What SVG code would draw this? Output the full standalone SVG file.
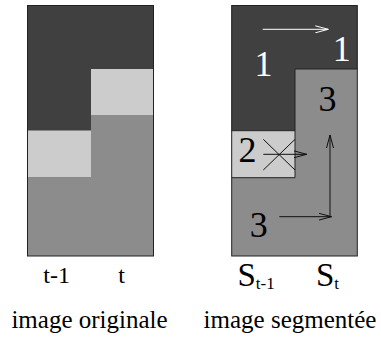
<svg xmlns="http://www.w3.org/2000/svg" width="381" height="339" viewBox="0 0 381 339">
<style>
.dark{fill:#404040}
.light{fill:#cccccc}
.mid{fill:#8c8c8c}
.edge{fill:none;stroke:#222;stroke-width:1}
text{font-family:'Liberation Serif','DejaVu Serif',serif;fill:#000}
.big{font-size:36px;text-anchor:middle}
.lab{font-size:24px;text-anchor:middle}
.cap{font-size:25px;text-anchor:middle}
.ln{stroke:#111;stroke-width:1;fill:none}
.wl{stroke:#fff;stroke-width:1;fill:none}
</style>
<defs>
<marker id="ab" markerWidth="14" markerHeight="8" refX="13" refY="4" orient="auto" markerUnits="userSpaceOnUse">
<path d="M0,0.5 L13,4 L0,7.5" fill="none" stroke="#111" stroke-width="1"/>
</marker>
<marker id="aw" markerWidth="14" markerHeight="8" refX="13" refY="4" orient="auto" markerUnits="userSpaceOnUse">
<path d="M0,0.5 L13,4 L0,7.5" fill="none" stroke="#fff" stroke-width="1"/>
</marker>
</defs>
<g id="original">
<rect class="dark" x="27.5" y="5.5" width="126" height="250.5"/>
<rect class="light" x="27.5" y="130.5" width="63.5" height="47"/>
<rect class="mid" x="27.5" y="177.5" width="63.5" height="78.5"/>
<rect class="light" x="91" y="69" width="62.5" height="46"/>
<rect class="mid" x="91" y="115" width="62.5" height="141"/>
<rect class="edge" x="27.5" y="5.5" width="126" height="250.5"/>
<text class="lab" x="56.7" y="283">t-1</text>
<text class="lab" x="121.7" y="283">t</text>
<text class="cap" x="89.5" y="328">image originale</text>
</g>
<g id="segmented">
<rect class="mid" x="231.7" y="5.5" width="125.6" height="250.5"/>
<path class="dark" d="M231.7,5.5 H357.3 V69 H295 V130.7 H231.7 Z"/>
<rect class="light" x="231.7" y="130.7" width="63.3" height="47"/>
<path class="edge" d="M295,69 H357.3 M295,69 V177.7 H231.7 M231.7,130.7 H295"/>
<rect class="edge" x="231.7" y="5.5" width="125.6" height="250.5"/>
<text class="big" x="263.5" y="76" style="fill:#fff">1</text>
<text class="big" x="341.7" y="61" style="fill:#fff">1</text>
<text class="big" x="327.5" y="111">3</text>
<text class="big" x="247.5" y="162">2</text>
<text class="big" x="258.7" y="236.7">3</text>
<text x="237.5" y="285.5" style="font-size:33px">S<tspan style="font-size:17px" dy="3">t-1</tspan></text>
<text x="316" y="285.5" style="font-size:33px">S<tspan style="font-size:17px" dy="3">t</tspan></text>
<text class="cap" x="290" y="328">image segmentée</text>
</g>
<g id="connectors">
<line class="wl" x1="262.7" y1="29.3" x2="328.3" y2="29.3" marker-end="url(#aw)"/>
<line class="ln" x1="263.3" y1="154.3" x2="306.7" y2="154.3" marker-end="url(#ab)"/>
<line class="ln" x1="263.3" y1="139.3" x2="295" y2="170"/>
<line class="ln" x1="263.3" y1="170" x2="295" y2="139.3"/>
<line class="ln" x1="279.3" y1="216.7" x2="331.5" y2="216.7" marker-end="url(#ab)"/>
<line class="ln" x1="330" y1="216.7" x2="330" y2="135" marker-end="url(#ab)"/>
</g>
</svg>
